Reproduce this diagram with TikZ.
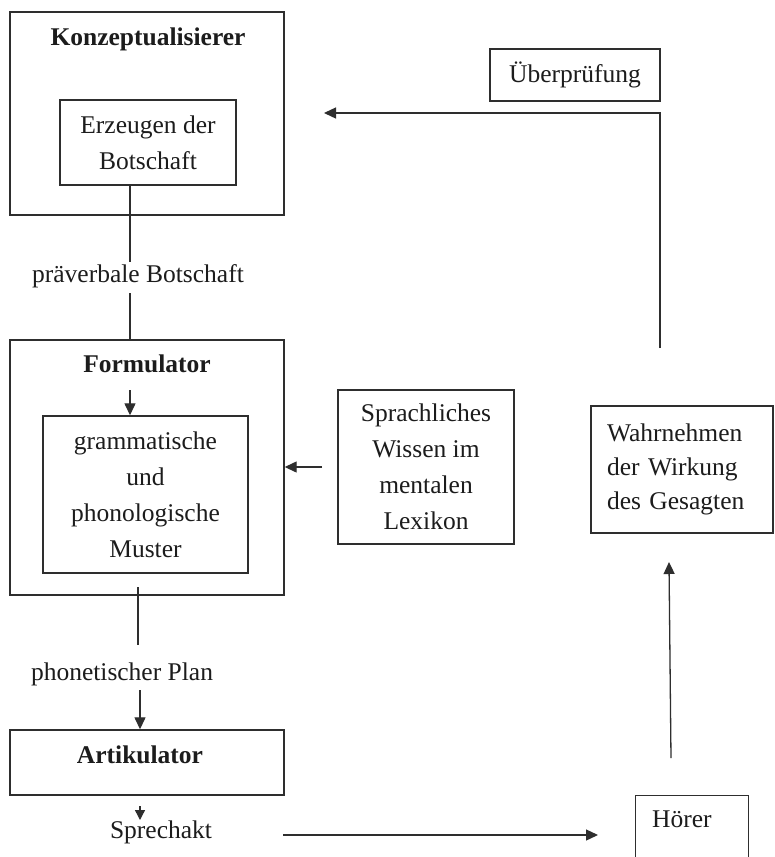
\documentclass[tikz,border=0pt]{standalone}
\usepackage{fontspec}
\setmainfont{Liberation Serif}
\usetikzlibrary{arrows.meta}
\definecolor{linegray}{HTML}{2E2E2E}
\definecolor{inkgray}{HTML}{1C1C1C}

\begin{document}
\begin{tikzpicture}[x=1pt,y=-1pt,
  box/.style={draw=linegray, line width=1.4pt, inner sep=0pt},
  txt/.style={font=\fontsize{25.5}{36}\selectfont, text=inkgray, align=center, inner sep=0pt},
  ttl/.style={font=\fontsize{25.5}{36}\selectfont\bfseries, text=inkgray, inner sep=0pt},
  conn/.style={draw=linegray, line width=1.3pt},
  arr/.style={conn, -{Triangle[length=12pt,width=11pt]}},
  arrsmall/.style={conn, -{Triangle[length=10pt,width=10pt]}},
]
% page area
\clip (0,0) rectangle (774,857);
\fill[white] (0,0) rectangle (774,857);

% ---- Konzeptualisierer ----
\node[box, minimum width=274pt, minimum height=203pt] (konz) at (147,113.5) {};
\node[ttl, anchor=base] (konzt) at (148,45) {Konzeptualisierer};
\node[box, txt, minimum width=176pt, minimum height=85pt] (erz) at (148,142.5) {Erzeugen der\\Botschaft};

% ---- präverbale Botschaft ----
\node[txt, anchor=base] (pv) at (138,282) {präverbale Botschaft};

% ---- Formulator ----
\node[box, minimum width=274pt, minimum height=255pt] (form) at (147,467.5) {};
\node[ttl, anchor=base] (formt) at (147,372) {Formulator};
\node[box, txt, minimum width=205pt, minimum height=157pt] (gram) at (145.5,494.5)
  {grammatische\\und\\phonologische\\Muster};

% ---- Lexikon ----
\node[box, txt, minimum width=176pt, minimum height=154pt] (lex) at (426,467)
  {Sprachliches\\Wissen im\\mentalen\\Lexikon};

% ---- phonetischer Plan / Artikulator / Sprechakt ----
\node[txt, anchor=base] (pp) at (122,680) {phonetischer Plan};
\node[box, minimum width=274pt, minimum height=65pt] (art) at (147,762.5) {};
\node[ttl, anchor=base] (artt) at (140,763) {Artikulator};
\node[txt, anchor=base] (spr) at (161,838) {Sprechakt};

% ---- Hörer / Wahrnehmen / Überprüfung ----
\node[box, minimum width=113pt, minimum height=90pt, anchor=north west] (hoer) at (635,795) {};
\node[txt, anchor=base west] (hoert) at (652,827) {Hörer};
\node[box, txt, font=\fontsize{25.5}{34}\selectfont, align=left, text width=150pt,
      inner xsep=16pt, minimum height=127pt] (wahr) at (682,469.5)
  {Wahrnehmen\\der Wirkung\\des Gesagten};
\node[box, txt, minimum width=170pt, minimum height=52pt] (ueb) at (575,75) {Überprüfung};

% ---- connector end points ----
\coordinate (pvtop) at (130,262);
\coordinate (pvbot) at (130,293);
\coordinate (fa) at (130,390);
\coordinate (sa) at (322,467);
\coordinate (pp1) at (138,587);
\coordinate (pp2) at (138,645);
\coordinate (pa) at (140,690);
\coordinate (sk1) at (140,806);
\coordinate (sk2) at (140,820);
\coordinate (sp1) at (283,835);
\coordinate (sp2) at (598,835);
\coordinate (h1) at (671,758);
\coordinate (h2) at (669,562);
\coordinate (fb1) at (660,348);
\coordinate (fb2) at (324,113);

% ---- connectors ----
\draw[conn] (erz.south -| pvtop) -- (pvtop);
\draw[conn] (pvbot) -- (pvbot |- form.north);
\draw[arr] (fa) -- (fa |- gram.north);
\draw[arr] (sa) -- (sa -| form.east);
\draw[conn] (pp1) -- (pp2);
\draw[arr] (pa) -- (pa |- art.north);
\draw[arrsmall] (sk1) -- (sk2);
\draw[arr] (sp1) -- (sp2);
\draw[arr] (h1) -- (h2);
\draw[arr] (fb1) -- (fb1 |- fb2) -- (fb2);
\end{tikzpicture}
\end{document}
